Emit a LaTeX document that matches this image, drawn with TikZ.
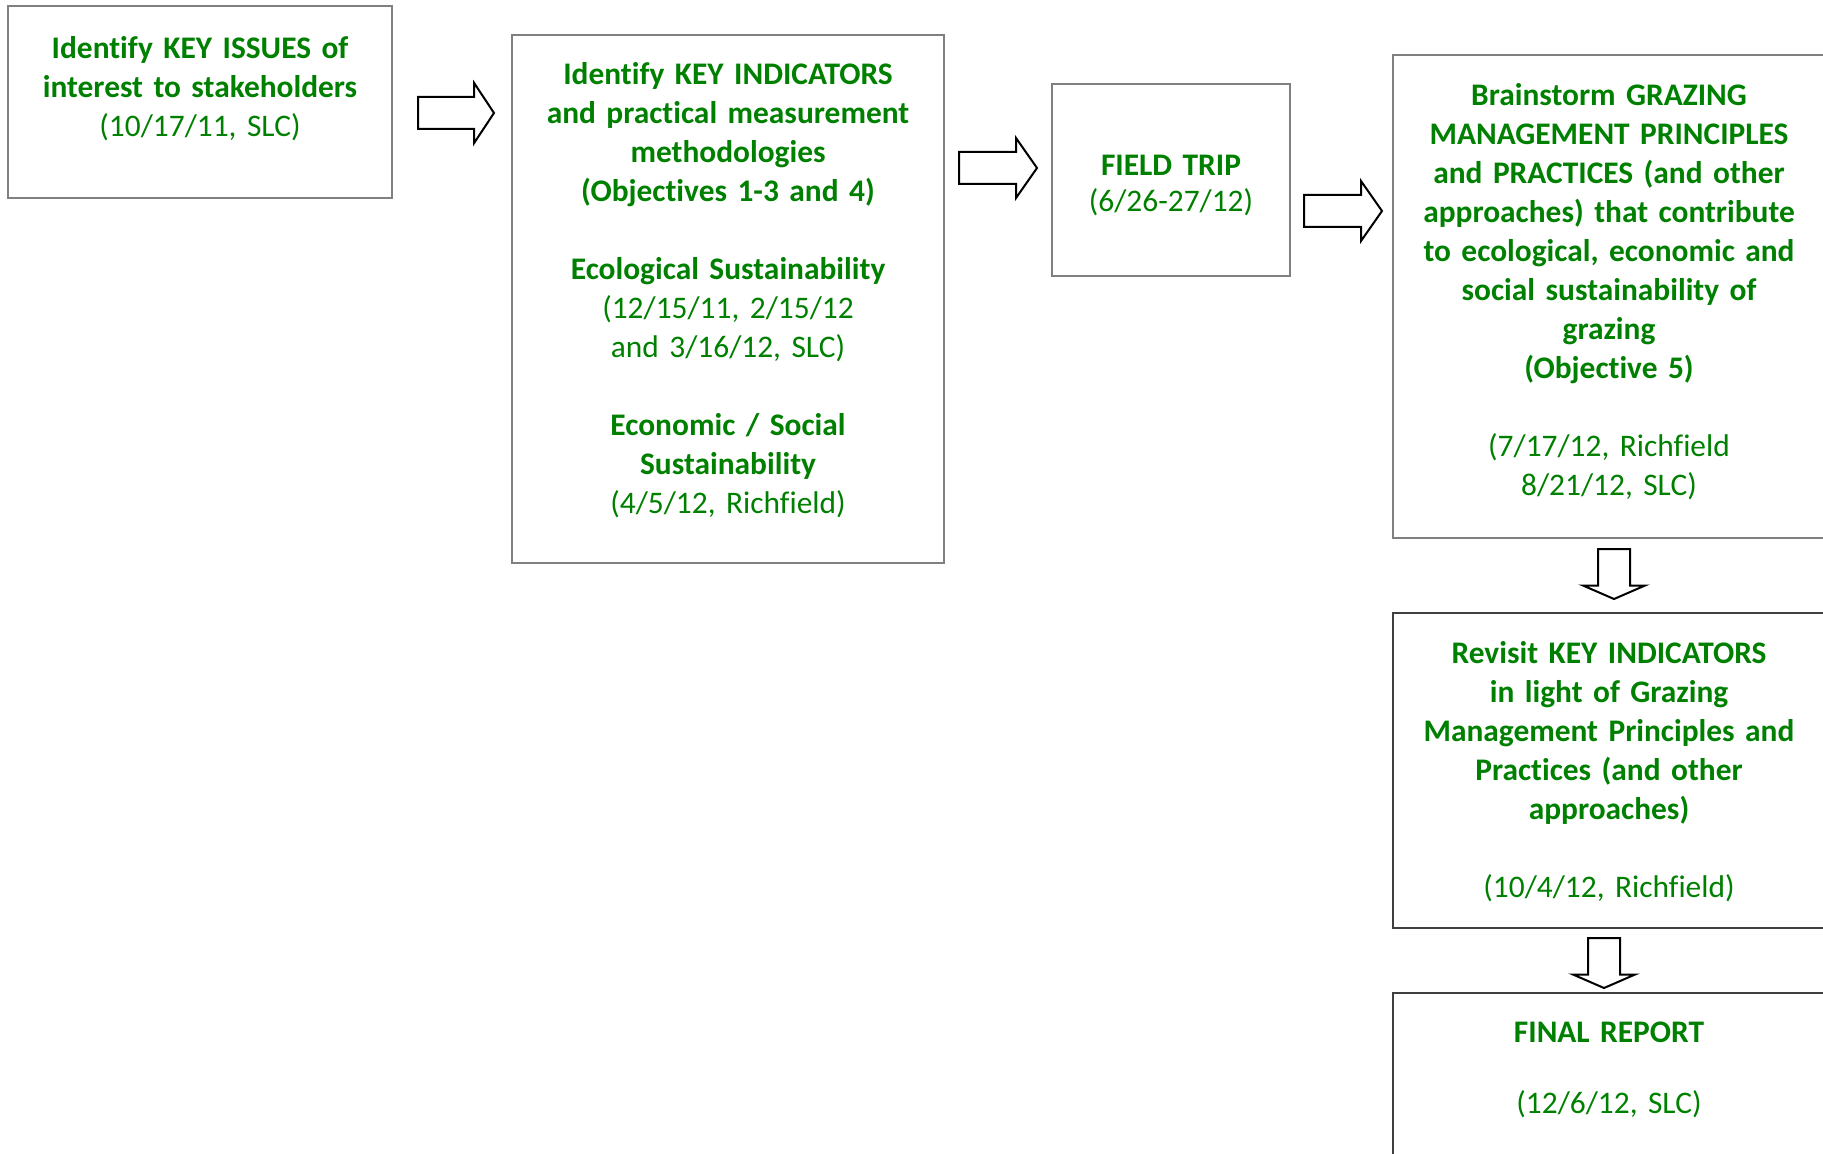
\documentclass[tikz,border=0pt]{standalone}
\usepackage{fontspec}
\setmainfont{Carlito}[Ligatures=NoCommon]
\usetikzlibrary{shapes.arrows}
\definecolor{leafgreen}{RGB}{0,128,0}

\begin{document}
\begin{tikzpicture}[x=0.5pt, y=-0.5pt,
  box/.style={rectangle, draw=gray, line width=0.6pt, inner sep=0pt},
  darkbox/.style={box, draw=black!75},
  txt/.style={text=leafgreen, align=center, text width=215pt, inner sep=0pt, anchor=base,
    font=\fontsize{15.7pt}{19.5pt}\selectfont},
  blockarrow/.style={single arrow, draw=black, line width=1pt, fill=white, anchor=tail,
    inner sep=7.5pt, single arrow head extend=7pt}]

  \useasboundingbox (0,0) rectangle (1823,1154);
  \clip (0,0) rectangle (1823,1154);

  % boxes
  \node[box, minimum width=192pt, minimum height=96pt] (issues) at (200,102) {};
  \node[box, minimum width=216pt, minimum height=264pt] (indicators) at (728,299) {};
  \node[box, minimum width=119pt, minimum height=96pt] (trip) at (1171,180) {};
  \node[box, minimum width=216.5pt, minimum height=241.5pt] (grazing) at (1609.5,296.5) {};
  \node[darkbox, minimum width=216.5pt, minimum height=157.5pt] (revisit) at (1609.5,770.5) {};
  \node[darkbox, minimum width=216.5pt, minimum height=83.5pt] (report) at (1609.5,1076.5) {};

  % texts
  \node[txt] (issues text) at (200,59) {
    \textbf{Identify KEY ISSUES of}\\
    \textbf{interest to stakeholders}\\
    (10/17/11, SLC)};
  \node[txt] (indicators text) at (728,85) {
    \textbf{Identify KEY INDICATORS}\\
    \textbf{and practical measurement}\\
    \textbf{methodologies}\\
    \textbf{(Objectives 1-3 and 4)}\\[\baselineskip]
    \textbf{Ecological Sustainability}\\
    (12/15/11, 2/15/12\\
    and 3/16/12, SLC)\\[\baselineskip]
    \textbf{Economic / Social}\\
    \textbf{Sustainability}\\
    (4/5/12, Richfield)};
  \node[txt] (trip text) at (1171,176) {
    \textbf{FIELD TRIP}\\[-1.5pt]
    (6/26-27/12)};
  \node[txt] (grazing text) at (1609,105.7) {
    \textbf{Brainstorm GRAZING}\\
    \textbf{MANAGEMENT PRINCIPLES}\\
    \textbf{and PRACTICES (and other}\\
    \textbf{approaches) that contribute}\\
    \textbf{to ecological, economic and}\\
    \textbf{social sustainability of}\\
    \textbf{grazing}\\
    \textbf{(Objective 5)}\\[\baselineskip]
    (7/17/12, Richfield\\
    8/21/12, SLC)};
  \node[txt] (revisit text) at (1609,663) {
    \textbf{Revisit KEY INDICATORS}\\
    \textbf{in light of Grazing}\\
    \textbf{Management Principles and}\\
    \textbf{Practices (and other}\\
    \textbf{approaches)}\\[\baselineskip]
    (10/4/12, Richfield)};
  \node[txt] (report text) at (1609,1042) {
    \textbf{FINAL REPORT}\\[16pt]
    (12/6/12, SLC)};

  % block arrows between the steps
  \node[blockarrow, minimum height=38pt, single arrow tip angle=113] (issues to indicators) at (417,113) {};
  \node[blockarrow, minimum height=39pt, single arrow tip angle=110] (indicators to trip) at (958,168) {};
  \node[blockarrow, minimum height=39pt, single arrow tip angle=110] (trip to grazing) at (1303,211) {};
  \node[blockarrow, minimum height=25pt, single arrow head extend=7.5pt, single arrow tip angle=133,
        shape border rotate=270] (grazing to revisit) at (1614,548) {};
  \node[blockarrow, minimum height=25pt, single arrow head extend=7.5pt, single arrow tip angle=133,
        shape border rotate=270] (revisit to report) at (1604,937) {};

\end{tikzpicture}
\end{document}
